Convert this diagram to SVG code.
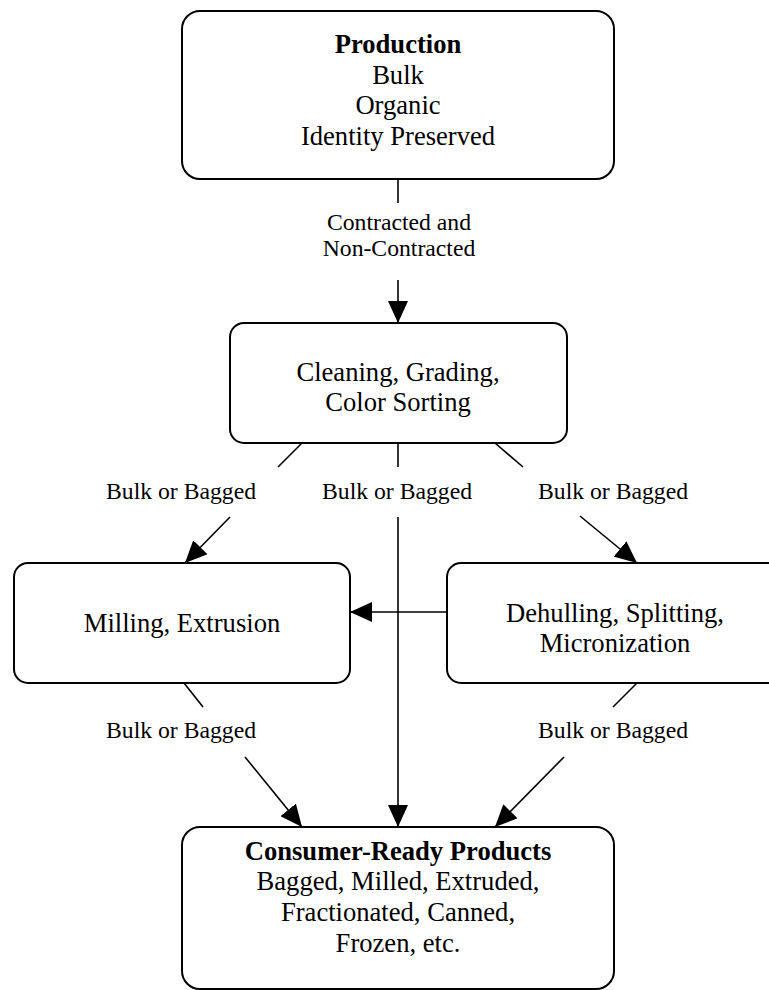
<svg xmlns="http://www.w3.org/2000/svg" width="769" height="990" viewBox="0 0 769 990">
<defs>
<style>
.box{fill:#fff;stroke:#000;stroke-width:2}
.ln{fill:none;stroke:#000;stroke-width:1.6}
.t{font-family:"Liberation Serif","Times New Roman",serif;font-size:26.6px;text-anchor:middle;fill:#000}
.b{font-weight:bold}
.l{font-family:"Liberation Serif","Times New Roman",serif;font-size:23.7px;text-anchor:middle;fill:#000}
</style>
<marker id="ah" viewBox="0 0 22 20" refX="22" refY="10" markerWidth="22" markerHeight="20" markerUnits="userSpaceOnUse" orient="auto">
<path d="M0,0 L22,10 L0,20 Z" fill="#000"/>
</marker>
</defs>
<rect width="769" height="990" fill="#fff"/>
<g id="connectors">
<line class="ln" x1="398" y1="179" x2="398" y2="203"/>
<line class="ln" x1="398" y1="280" x2="398" y2="323" marker-end="url(#ah)"/>
<line class="ln" x1="302" y1="443" x2="278" y2="467"/>
<line class="ln" x1="230" y1="517" x2="185" y2="563" marker-end="url(#ah)"/>
<line class="ln" x1="398" y1="443" x2="398" y2="467"/>
<line class="ln" x1="398" y1="517" x2="398" y2="827" marker-end="url(#ah)"/>
<line class="ln" x1="495" y1="443" x2="523" y2="467"/>
<line class="ln" x1="580" y1="516" x2="637" y2="563" marker-end="url(#ah)"/>
<line class="ln" x1="447" y1="612" x2="350" y2="612" marker-end="url(#ah)"/>
<line class="ln" x1="184" y1="683" x2="203" y2="707"/>
<line class="ln" x1="245" y1="757" x2="302" y2="827" marker-end="url(#ah)"/>
<line class="ln" x1="637" y1="683" x2="613" y2="707"/>
<line class="ln" x1="564" y1="757" x2="495" y2="827" marker-end="url(#ah)"/>
<text class="l" x="399" y="230">Contracted and</text>
<text class="l" x="399" y="256">Non-Contracted</text>
<text class="l" x="181" y="499">Bulk or Bagged</text>
<text class="l" x="397" y="499">Bulk or Bagged</text>
<text class="l" x="613" y="499">Bulk or Bagged</text>
<text class="l" x="181" y="738">Bulk or Bagged</text>
<text class="l" x="613" y="738">Bulk or Bagged</text>
</g>
<g id="production">
<rect class="box" x="182" y="11" width="432" height="168" rx="18"/>
<text class="t b" x="398" y="53">Production</text>
<text class="t" x="398" y="83.5">Bulk</text>
<text class="t" x="398" y="114">Organic</text>
<text class="t" x="398" y="144.5">Identity Preserved</text>
</g>
<g id="cleaning">
<rect class="box" x="230" y="323" width="337" height="120" rx="14"/>
<text class="t" x="398" y="381">Cleaning, Grading,</text>
<text class="t" x="398" y="411">Color Sorting</text>
</g>
<g id="milling">
<rect class="box" x="14" y="563" width="336" height="120" rx="14"/>
<text class="t" x="182" y="632">Milling, Extrusion</text>
</g>
<g id="dehulling">
<rect class="box" x="447" y="563" width="336" height="120" rx="14"/>
<text class="t" x="615" y="622">Dehulling, Splitting,</text>
<text class="t" x="615" y="652">Micronization</text>
</g>
<g id="consumer">
<rect class="box" x="182" y="827" width="432" height="162" rx="18"/>
<text class="t b" x="398" y="860">Consumer-Ready Products</text>
<text class="t" x="398" y="890">Bagged, Milled, Extruded,</text>
<text class="t" x="398" y="921">Fractionated, Canned,</text>
<text class="t" x="398" y="952">Frozen, etc.</text>
</g>
</svg>
